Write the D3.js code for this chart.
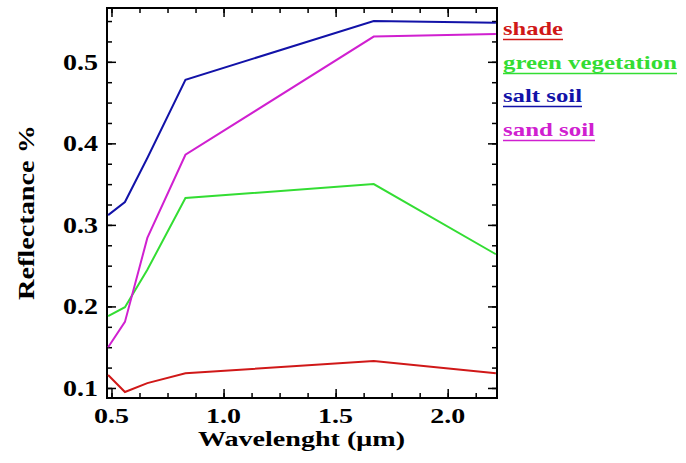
<!DOCTYPE html>
<html>
  <head>
    <title>Reflectance</title>
    <script type="text/javascript" src="https://cdn.jsdelivr.net/npm/d3@7/dist/d3.min.js"></script>
    <style type="text/css">
      body { margin: 0; background: #fff; }
      text { font-family: "Liberation Serif", "DejaVu Serif", serif; font-weight: bold; }
    </style>
  </head>
  <body>
    <svg id="chart" width="686" height="463"></svg>

    <script type="text/javascript">

    // Landsat TM band centres (um)
    var wavelengths = [0.485, 0.56, 0.66, 0.83, 1.67, 2.215];

    var shade      = [0.116, 0.095, 0.106, 0.118, 0.133, 0.118];
    var greenVeg   = [0.188, 0.199, 0.245, 0.333, 0.350, 0.264];
    var saltSoil   = [0.312, 0.328, 0.382, 0.478, 0.550, 0.548];
    var sandSoil   = [0.150, 0.181, 0.284, 0.386, 0.531, 0.534];

    var seriesNames  = ['shade', 'green vegetation', 'salt soil', 'sand soil'];
    var seriesColors = ['#d01818', '#33dd33', '#1212a8', '#d020d0'];
    var seriesValues = [shade, greenVeg, saltSoil, sandSoil];

    var xTickLabels = [0.5, 1.0, 1.5, 2.0];
    var yTickLabels = [0.1, 0.2, 0.3, 0.4, 0.5];

    var svg = d3.select('#chart');
    svg.append('rect').attr('width', 686).attr('height', 463).attr('fill', '#fff');

    // plot frame (note: 'top' is a reserved window global, so use other names)
    var pLeft = 107, pRight = 497, pTop = 8, pBottom = 398;

    var x = d3.scaleLinear().domain([0.48, 2.22]).range([pLeft, pRight]);
    var y = d3.scaleLinear().domain([0.0877, 0.566]).range([pBottom, pTop]);

    // minor / major ticks, all pointing inwards on every side
    var xMinor = d3.range(0.5, 2.2, 0.125);
    var yMinor = d3.range(0.1, 0.56, 0.025);

    function ticks(axisFn, scale, values, size, tx, ty) {
      var g = svg.append('g')
        .attr('transform', 'translate(' + tx + ',' + ty + ')')
        .call(axisFn(scale).tickValues(values).tickSize(size).tickFormat(''));
      g.select('.domain').remove();
      g.selectAll('line').attr('stroke', '#000').attr('stroke-width', 1.5);
    }

    ticks(d3.axisBottom, x, xMinor, -5, 0, pBottom);
    ticks(d3.axisBottom, x, xTickLabels, -9, 0, pBottom);
    ticks(d3.axisTop, x, xMinor, -5, 0, pTop);
    ticks(d3.axisTop, x, xTickLabels, -9, 0, pTop);
    ticks(d3.axisLeft, y, yMinor, -5, pLeft, 0);
    ticks(d3.axisLeft, y, yTickLabels, -9, pLeft, 0);
    ticks(d3.axisRight, y, yMinor, -5, pRight, 0);
    ticks(d3.axisRight, y, yTickLabels, -9, pRight, 0);

    svg.append('rect')
      .attr('x', pLeft).attr('y', pTop)
      .attr('width', pRight - pLeft).attr('height', pBottom - pTop)
      .attr('fill', 'none').attr('stroke', '#000').attr('stroke-width', 2);

    // tick labels
    svg.selectAll('.xlab')
      .data(xTickLabels)
      .enter()
      .append('text')
        .attr('class', 'xlab')
        .attr('x', function(d) { return x(d); })
        .attr('y', 423)
        .attr('text-anchor', 'middle')
        .attr('font-size', 22)
        .attr('textLength', 35)
        .attr('lengthAdjust', 'spacingAndGlyphs')
        .text(function(d) { return d.toFixed(1); });

    svg.selectAll('.ylab')
      .data(yTickLabels)
      .enter()
      .append('text')
        .attr('class', 'ylab')
        .attr('x', 63)
        .attr('y', function(d) { return y(d) + 8; })
        .attr('font-size', 23)
        .attr('textLength', 35)
        .attr('lengthAdjust', 'spacingAndGlyphs')
        .text(function(d) { return d.toFixed(1); });

    // axis titles
    svg.append('text')
      .attr('x', 198).attr('y', 446)
      .attr('font-size', 22)
      .attr('textLength', 207)
      .attr('lengthAdjust', 'spacingAndGlyphs')
      .text('Wavelenght (\u03bcm)');

    svg.append('text')
      .attr('transform', 'translate(34,300) rotate(-90)')
      .attr('font-size', 23)
      .attr('textLength', 175)
      .attr('lengthAdjust', 'spacingAndGlyphs')
      .text('Reflectance %');

    // series
    var line = d3.line()
      .x(function(d, i) { return x(wavelengths[i]); })
      .y(function(d) { return y(d); });

    svg.append('g')
      .selectAll('path')
      .data(seriesValues)
      .enter()
      .append('path')
        .attr('d', line)
        .attr('fill', 'none')
        .attr('stroke', function(d, i) { return seriesColors[i]; })
        .attr('stroke-width', 2);

    // legend
    var legendWidths = [60, 174, 79, 92];
    var legendBase = [35, 69, 102, 136];

    var leg = svg.selectAll('.leg')
      .data(seriesNames)
      .enter()
      .append('g')
        .attr('class', 'leg')
        .attr('transform', function(d, i) { return 'translate(503,' + legendBase[i] + ')'; });

    leg.append('text')
      .attr('font-size', 19)
      .attr('fill', function(d, i) { return seriesColors[i]; })
      .attr('textLength', function(d, i) { return legendWidths[i]; })
      .attr('lengthAdjust', 'spacingAndGlyphs')
      .text(function(d) { return d; });

    leg.append('line')
      .attr('x1', 0)
      .attr('x2', function(d, i) { return legendWidths[i]; })
      .attr('y1', 4.5).attr('y2', 4.5)
      .attr('stroke', function(d, i) { return seriesColors[i]; })
      .attr('stroke-width', 1.5);

    </script>
  </body>
</html>
